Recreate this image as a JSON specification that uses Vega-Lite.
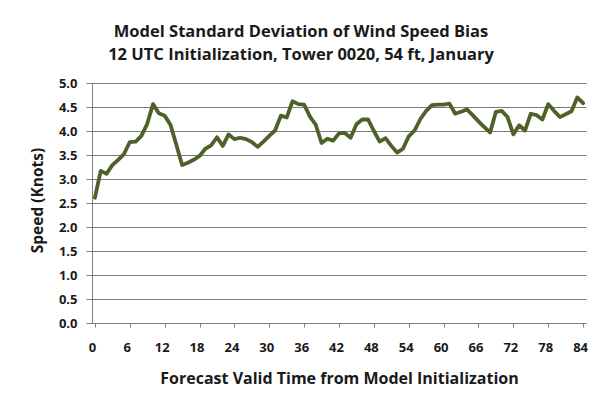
{
  "$schema": "https://vega.github.io/schema/vega-lite/v6.json",
  "autosize": {"type": "none"},
  "width": 494,
  "height": 240,
  "padding": {"left": 92, "top": 83, "right": 19, "bottom": 83},
  "background": "white",
  "title": {
    "text": ["Model Standard Deviation of Wind Speed Bias", "12 UTC Initialization, Tower 0020, 54 ft, January"],
    "anchor": "middle",
    "frame": "group",
    "dx": -38,
    "font": "Open Sans",
    "fontSize": 16.5,
    "fontWeight": "bold",
    "color": "#1a1a1a",
    "lineHeight": 23,
    "offset": 14
  },
  "data": {
    "values": [
      {"hour": 0, "speed": 2.61}, {"hour": 1, "speed": 3.17}, {"hour": 2, "speed": 3.11}, {"hour": 3, "speed": 3.29},
      {"hour": 4, "speed": 3.40}, {"hour": 5, "speed": 3.52}, {"hour": 6, "speed": 3.77}, {"hour": 7, "speed": 3.78},
      {"hour": 8, "speed": 3.90}, {"hour": 9, "speed": 4.15}, {"hour": 10, "speed": 4.56}, {"hour": 11, "speed": 4.37},
      {"hour": 12, "speed": 4.32}, {"hour": 13, "speed": 4.13}, {"hour": 14, "speed": 3.72}, {"hour": 15, "speed": 3.29},
      {"hour": 16, "speed": 3.34}, {"hour": 17, "speed": 3.40}, {"hour": 18, "speed": 3.48}, {"hour": 19, "speed": 3.63},
      {"hour": 20, "speed": 3.70}, {"hour": 21, "speed": 3.87}, {"hour": 22, "speed": 3.69}, {"hour": 23, "speed": 3.93},
      {"hour": 24, "speed": 3.83}, {"hour": 25, "speed": 3.86}, {"hour": 26, "speed": 3.83}, {"hour": 27, "speed": 3.77},
      {"hour": 28, "speed": 3.67}, {"hour": 29, "speed": 3.78}, {"hour": 30, "speed": 3.90}, {"hour": 31, "speed": 4.01},
      {"hour": 32, "speed": 4.32}, {"hour": 33, "speed": 4.28}, {"hour": 34, "speed": 4.62}, {"hour": 35, "speed": 4.56},
      {"hour": 36, "speed": 4.55}, {"hour": 37, "speed": 4.30}, {"hour": 38, "speed": 4.13}, {"hour": 39, "speed": 3.75},
      {"hour": 40, "speed": 3.84}, {"hour": 41, "speed": 3.80}, {"hour": 42, "speed": 3.95}, {"hour": 43, "speed": 3.96},
      {"hour": 44, "speed": 3.86}, {"hour": 45, "speed": 4.14}, {"hour": 46, "speed": 4.24}, {"hour": 47, "speed": 4.24},
      {"hour": 48, "speed": 4.00}, {"hour": 49, "speed": 3.78}, {"hour": 50, "speed": 3.85}, {"hour": 51, "speed": 3.69},
      {"hour": 52, "speed": 3.55}, {"hour": 53, "speed": 3.63}, {"hour": 54, "speed": 3.89}, {"hour": 55, "speed": 4.01},
      {"hour": 56, "speed": 4.25}, {"hour": 57, "speed": 4.42}, {"hour": 58, "speed": 4.54}, {"hour": 59, "speed": 4.55},
      {"hour": 60, "speed": 4.55}, {"hour": 61, "speed": 4.57}, {"hour": 62, "speed": 4.36}, {"hour": 63, "speed": 4.40},
      {"hour": 64, "speed": 4.45}, {"hour": 65, "speed": 4.33}, {"hour": 66, "speed": 4.20}, {"hour": 67, "speed": 4.08},
      {"hour": 68, "speed": 3.97}, {"hour": 69, "speed": 4.40}, {"hour": 70, "speed": 4.42}, {"hour": 71, "speed": 4.29},
      {"hour": 72, "speed": 3.93}, {"hour": 73, "speed": 4.12}, {"hour": 74, "speed": 4.01}, {"hour": 75, "speed": 4.36},
      {"hour": 76, "speed": 4.33}, {"hour": 77, "speed": 4.24}, {"hour": 78, "speed": 4.56}, {"hour": 79, "speed": 4.42},
      {"hour": 80, "speed": 4.29}, {"hour": 81, "speed": 4.35}, {"hour": 82, "speed": 4.41}, {"hour": 83, "speed": 4.70},
      {"hour": 84, "speed": 4.58}
    ]
  },
  "mark": {"type": "line", "color": "#4e6128", "strokeWidth": 3.8, "strokeJoin": "round", "strokeCap": "round"},
  "encoding": {
    "x": {
      "field": "hour",
      "type": "quantitative",
      "scale": {"domain": [-0.5, 84.5], "nice": false, "zero": false},
      "axis": {
        "title": "Forecast Valid Time from Model Initialization",
        "values": [0, 6, 12, 18, 24, 30, 36, 42, 48, 54, 60, 66, 72, 78, 84],
        "grid": false,
        "domain": false,
        "tickSize": 4,
        "tickColor": "#808080",
        "labelOffset": -3,
        "labelPadding": 14,
        "labelFont": "Open Sans",
        "labelFontSize": 13,
        "labelFontWeight": "bold",
        "labelColor": "#1a1a1a",
        "titleFont": "Open Sans",
        "titleFontSize": 16,
        "titleFontWeight": "bold",
        "titleColor": "#1a1a1a",
        "titlePadding": 16
      }
    },
    "y": {
      "field": "speed",
      "type": "quantitative",
      "scale": {"domain": [0, 5], "nice": false},
      "axis": {
        "title": "Speed (Knots)",
        "values": [0, 0.5, 1, 1.5, 2, 2.5, 3, 3.5, 4, 4.5, 5],
        "format": ".1f",
        "grid": true,
        "gridColor": "#7a7a7a",
        "gridWidth": 1,
        "domain": true,
        "domainColor": "#808080",
        "tickSize": 6,
        "tickColor": "#808080",
        "labelPadding": 9,
        "labelFont": "Open Sans",
        "labelFontSize": 13,
        "labelFontWeight": "bold",
        "labelColor": "#1a1a1a",
        "titleFont": "Open Sans",
        "titleFontSize": 15.5,
        "titleFontWeight": "bold",
        "titleColor": "#1a1a1a",
        "titleX": -55,
        "titleY": 117,
        "titleAngle": 270,
        "titleAlign": "center",
        "titleBaseline": "middle"
      }
    }
  },
  "config": {
    "view": {"stroke": null}
  }
}
